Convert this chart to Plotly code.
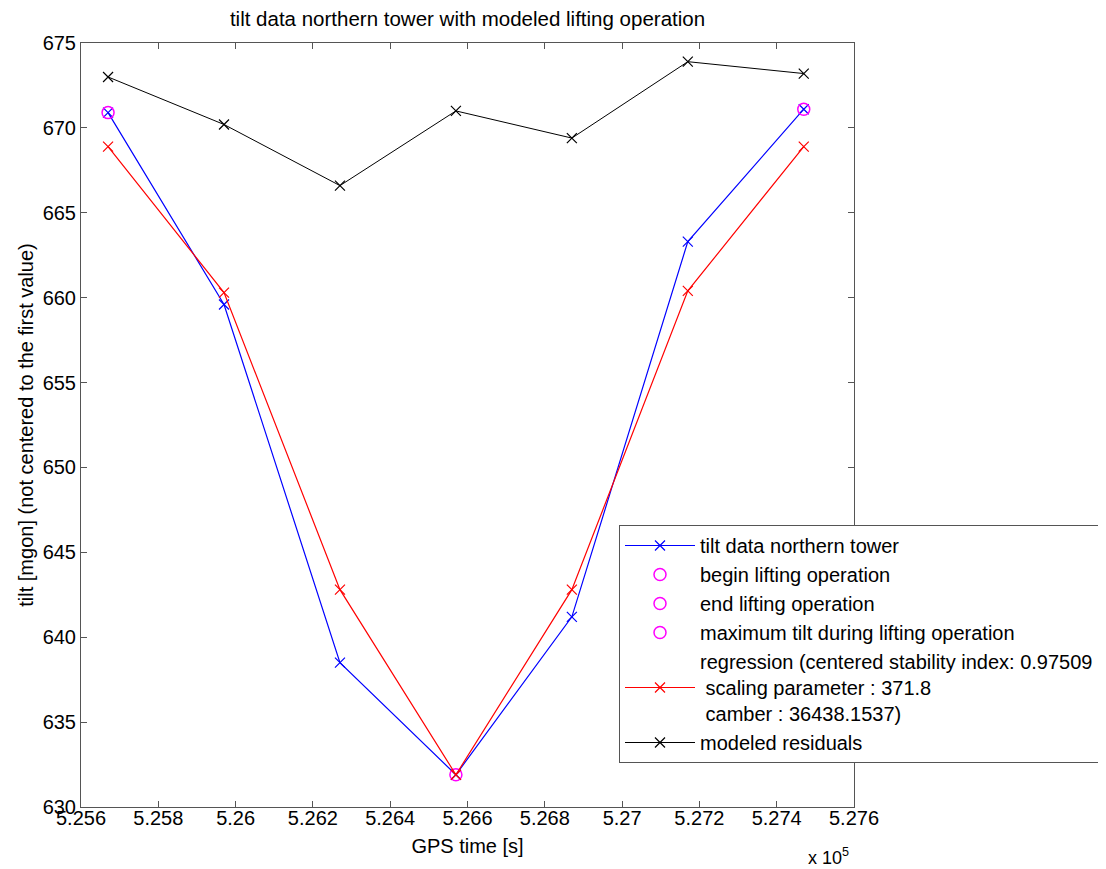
import plotly.graph_objects as go

# data
gps_time = [525670, 525970, 526270, 526570, 526870, 527170, 527470]
tilt_north = [670.9, 659.6, 638.5, 631.9, 641.2, 663.3, 671.1]
regression = [668.9, 660.3, 642.8, 631.9, 642.8, 660.4, 668.9]
residuals = [673.0, 670.2, 666.6, 671.0, 669.4, 673.9, 673.2]
begin_idx = 0
end_idx = 6
max_idx = 3

x_tickvals = [525600, 525800, 526000, 526200, 526400, 526600, 526800, 527000, 527200, 527400, 527600]
x_ticktext = ["5.256", "5.258", "5.26", "5.262", "5.264", "5.266", "5.268", "5.27", "5.272", "5.274", "5.276"]
y_tickvals = [630, 635, 640, 645, 650, 655, 660, 665, 670, 675]

FONT = "Liberation Sans, Arial, sans-serif"
W, H = 1106, 869
OFF = 8  # page body margin in the browser
# target screen positions of the plot area
PL, PR, PT, PB = 81, 854, 43, 807
L = PL - OFF
T = PT - OFF
R = W - (PR - OFF)
B = H - (PB - OFF)
PW = PR - PL
PH = PB - PT


def px_to_paper_x(sx):
    return (sx - PL) / PW


def px_to_paper_y(sy):
    return (PB - sy) / PH


fig = go.Figure()
fig.add_trace(go.Scatter(
    x=gps_time, y=tilt_north, mode="lines+markers", name="tilt data northern tower",
    line=dict(color="#0000FF", width=1.2),
    marker=dict(symbol="x-thin-open", size=10, line=dict(color="#0000FF", width=1.2)),
))
for idx, nm in [(begin_idx, "begin lifting operation"), (end_idx, "end lifting operation"),
                (max_idx, "maximum tilt during lifting operation")]:
    fig.add_trace(go.Scatter(
        x=[gps_time[idx]], y=[tilt_north[idx]], mode="markers", name=nm,
        marker=dict(symbol="circle-open", size=12, color="#FF00FF", line=dict(color="#FF00FF", width=1.5)),
    ))
fig.add_trace(go.Scatter(
    x=gps_time, y=regression, mode="lines+markers",
    name="regression (centered stability index: 0.97509<br>\u00a0scaling parameter : 371.8<br>\u00a0camber : 36438.1537)",
    line=dict(color="#FF0000", width=1.2),
    marker=dict(symbol="x-thin-open", size=10, line=dict(color="#FF0000", width=1.2)),
))
fig.add_trace(go.Scatter(
    x=gps_time, y=residuals, mode="lines+markers", name="modeled residuals",
    line=dict(color="#000000", width=1),
    marker=dict(symbol="x-thin-open", size=10, line=dict(color="#000000", width=1.2)),
))

axis_common = dict(
    showline=True, linecolor="#555555", linewidth=1, mirror="ticks",
    ticks="inside", ticklen=6, tickcolor="#555555", showgrid=False, zeroline=False,
    tickfont=dict(family=FONT, size=20, color="black"),
)
fig.update_xaxes(range=[525600, 527600], tickmode="array", tickvals=x_tickvals, ticktext=x_ticktext,
                 ticklabelstandoff=-7,
                 title=dict(text="GPS time [s]", font=dict(family=FONT, size=20, color="black"), standoff=10),
                 **axis_common)
fig.update_yaxes(range=[630, 675], tickmode="array", tickvals=y_tickvals,
                 title=dict(text="tilt [mgon] (not centered to the first value)",
                            font=dict(family=FONT, size=20, color="black"), standoff=3),
                 **axis_common)

fig.update_layout(
    width=W, height=H,
    margin=dict(l=L, r=R, t=T, b=B, autoexpand=False),
    plot_bgcolor="white", paper_bgcolor="white",
    font=dict(family=FONT, size=20, color="black"),
    title=dict(text="tilt data northern tower with modeled lifting operation",
               x=0.5, xref="paper", xanchor="center", y=1 - (19 - OFF) / H, yanchor="middle",
               font=dict(family=FONT, size=20.5, color="black")),
    legend=dict(x=px_to_paper_x(619), xanchor="left", y=px_to_paper_y(525), yanchor="top",
                bordercolor="#555555", borderwidth=1, bgcolor="white",
                font=dict(family=FONT, size=20, color="black"), itemwidth=70, tracegroupgap=0),
    showlegend=True,
    annotations=[dict(text="x 10<sup>5</sup>", xref="paper", yref="paper",
                      x=px_to_paper_x(806), y=px_to_paper_y(856),
                      xanchor="left", yanchor="middle", showarrow=False,
                      font=dict(family=FONT, size=18, color="black"))],
)

fig.write_html("out.html")
